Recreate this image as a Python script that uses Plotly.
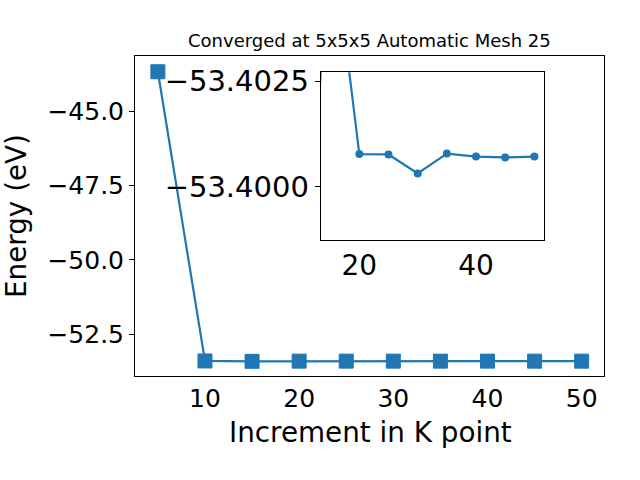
import plotly.graph_objects as go

kpoints = [5, 10, 15, 20, 25, 30, 35, 40, 45, 50]
energies = [-43.68, -53.395, -53.4064, -53.40077, -53.40076, -53.40031,
            -53.40078, -53.40071, -53.40069, -53.40071]

title_text = "Converged at 5x5x5 Automatic Mesh 25"
xlabel = "Increment in K point"
ylabel = "Energy (eV)"
main_xticks = [10, 20, 30, 40, 50]
main_yticks = [-45.0, -47.5, -50.0, -52.5]
main_yticktext = ["\u221245.0", "\u221247.5", "\u221250.0", "\u221252.5"]
inset_xticks = [20, 40]
inset_yticks = [-53.4025, -53.4000]
inset_yticktext = ["\u221253.4025", "\u221253.4000"]

BLUE = "#1f77b4"
FONT = "DejaVu Sans"

main_xrange = [2.57, 52.34]
inset_xrange = [13.38, 51.7]

fig = go.Figure()
fig.add_trace(go.Scatter(
    x=kpoints, y=energies, mode="lines+markers",
    line=dict(color=BLUE, width=2.2),
    marker=dict(symbol="square", size=14, color=BLUE, line=dict(color=BLUE, width=1)),
    xaxis="x", yaxis="y", showlegend=False))
fig.add_trace(go.Scatter(
    x=kpoints, y=energies, mode="lines+markers",
    line=dict(color=BLUE, width=2.2),
    marker=dict(symbol="circle", size=8, color=BLUE),
    xaxis="x2", yaxis="y2", showlegend=False))

frame = dict(showline=True, mirror=True, linecolor="black", linewidth=1,
             showgrid=False, zeroline=False, automargin=False)
tickstyle = dict(ticks="outside", ticklen=5, tickwidth=1, tickcolor="black")
tickonly = dict(ticks="outside", ticklen=5, tickwidth=1, tickcolor="black",
                showticklabels=False, showline=False, showgrid=False, zeroline=False,
                automargin=False)

fig.update_layout(
    width=640, height=480, autosize=False, showlegend=False,
    margin=dict(l=0, r=0, t=0, b=0, pad=0, autoexpand=False),
    paper_bgcolor="white", plot_bgcolor="white",
    font=dict(family=FONT, color="black"),
    xaxis=dict(domain=[135/640, 603.7/640], range=main_xrange,
               tickvals=main_xticks, tickfont=dict(size=25), anchor="y",
               ticks="", **frame),
    xaxis3=dict(overlaying="x", anchor="y", range=main_xrange,
                tickvals=main_xticks, **tickonly),
    yaxis=dict(domain=[1-376/480, 1-56/480], range=[-53.90, -43.15],
               tickvals=main_yticks, ticktext=main_yticktext, tickfont=dict(size=25),
               anchor="x", **tickstyle, **frame),
    xaxis2=dict(domain=[320.7/640, 544.3/640], range=inset_xrange,
                tickvals=inset_xticks, tickfont=dict(size=28), anchor="y2",
                ticks="", **frame),
    xaxis4=dict(overlaying="x2", anchor="y2", range=inset_xrange,
                tickvals=inset_xticks, **tickonly),
    yaxis2=dict(domain=[0.5, 1-72.3/480], range=[-53.39873, -53.40271],
                tickvals=inset_yticks, ticktext=inset_yticktext, tickfont=dict(size=29),
                anchor="x2", **tickstyle, **frame),
    annotations=[
        dict(text=title_text, x=369/640, y=1-40/480, xref="paper", yref="paper",
             xanchor="center", yanchor="middle", showarrow=False,
             font=dict(size=18, family=FONT)),
        dict(text=xlabel, x=370/640, y=1-432/480, xref="paper", yref="paper",
             xanchor="center", yanchor="middle", showarrow=False,
             font=dict(size=27.8, family=FONT)),
        dict(text=ylabel, x=17/640, y=1-216/480, xref="paper", yref="paper",
             xanchor="center", yanchor="middle", showarrow=False, textangle=-90,
             font=dict(size=27.8, family=FONT)),
    ],
)

post = (
    "document.body.style.margin='0';"
    "document.body.style.overflow='hidden';"
    "var d=document.querySelector('.plotly-graph-div');"
    "var r=d.getBoundingClientRect();"
    "document.body.style.marginTop=(-r.top)+'px';"
    "document.body.style.marginLeft=(-r.left)+'px';"
)
fig.write_html("out.html", config={"displayModeBar": False}, post_script=post)
